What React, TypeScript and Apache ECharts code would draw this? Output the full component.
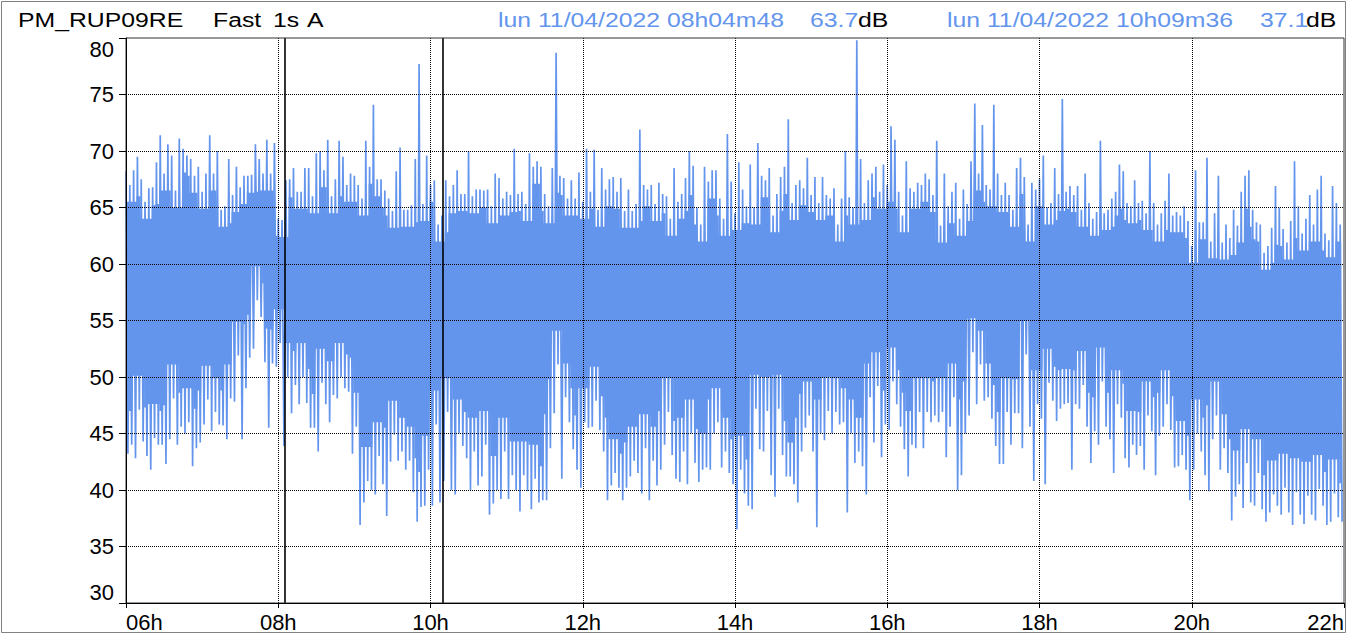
import React, { useEffect, useRef } from "react";
import * as echarts from "echarts";

const FONT = '"Liberation Sans", Arial, Helvetica, sans-serif';
const BLUE = "#6495ED";

// x axis: hours of the day
const hourTicks = [6, 8, 10, 12, 14, 16, 18, 20, 22];
// y axis: dB
const dbTicks = [30, 35, 40, 45, 50, 55, 60, 65, 70, 75, 80];
// cursor positions (08h04m48, 10h09m36)
const cursorHours = [8 + 4 / 60 + 48 / 3600, 10 + 9 / 60 + 36 / 3600];

// 3-minute buckets starting 06h00: max and min of the Fast 1s trace
const bucketStartHour = 6;
const bucketHours = 0.05;
const bucketMax = [
  68.2, 67.0, 68.3, 69.5, 67.5, 65.5, 66.7, 66.8, 69.0, 71.4,
  68.0, 70.6, 69.6, 66.5, 71.1, 70.2, 69.6, 69.3, 67.8, 68.6,
  66.4, 68.0, 71.4, 68.0, 70.0, 64.8, 65.1, 69.3, 66.1, 68.6,
  66.8, 67.8, 67.8, 67.9, 70.6, 69.3, 68.0, 71.0, 68.0, 70.7,
  64.0, 63.9, 67.4, 67.5, 68.5, 66.4, 66.4, 68.5, 68.5, 66.0,
  69.8, 70.0, 68.3, 71.0, 66.0, 67.5, 70.9, 69.5, 67.0, 68.0,
  67.8, 67.0, 65.8, 70.9, 68.6, 74.1, 67.5, 67.5, 66.5, 65.8,
  64.7, 68.2, 70.3, 64.8, 64.8, 65.2, 69.3, 77.7, 65.3, 69.6,
  67.0, 67.4, 63.5, 64.3, 67.4, 66.0, 67.0, 68.3, 66.2, 66.2,
  70.0, 66.0, 66.6, 66.6, 66.5, 66.6, 65.1, 68.0, 67.6, 65.8,
  66.4, 66.1, 70.2, 66.2, 66.4, 65.3, 69.8, 68.6, 69.1, 68.6,
  66.2, 65.1, 68.5, 78.7, 67.8, 67.6, 65.8, 67.4, 65.8, 68.1,
  65.5, 70.2, 66.4, 70.1, 64.8, 68.5, 66.6, 67.5, 67.7, 66.4,
  67.6, 64.7, 66.6, 64.7, 65.3, 71.9, 67.0, 66.6, 67.0, 65.3,
  67.2, 66.2, 66.0, 64.0, 68.5, 65.5, 66.2, 67.6, 70.0, 68.7,
  65.0, 63.5, 68.6, 67.3, 68.3, 68.3, 65.8, 64.0, 71.5, 67.3,
  64.5, 69.0, 66.6, 65.1, 68.8, 65.0, 70.7, 67.8, 67.4, 68.5,
  64.3, 66.2, 67.7, 68.6, 72.8, 65.4, 67.0, 67.4, 66.7, 69.4,
  66.1, 67.7, 65.4, 67.7, 66.1, 65.8, 66.7, 63.5, 65.8, 70.0,
  65.9, 65.0, 79.8, 69.3, 65.4, 67.4, 68.0, 68.6, 66.4, 68.8,
  67.0, 72.2, 71.0, 66.4, 64.3, 69.1, 66.7, 66.4, 67.2, 67.0,
  68.0, 67.5, 66.1, 70.9, 63.4, 68.0, 65.1, 66.4, 67.2, 64.0,
  66.6, 65.3, 69.1, 74.2, 68.0, 72.3, 67.0, 66.6, 74.1, 68.0,
  66.1, 67.2, 66.1, 64.8, 68.5, 69.4, 67.7, 63.5, 67.2, 66.6,
  67.5, 69.6, 65.0, 65.4, 68.5, 66.2, 74.6, 66.4, 66.9, 66.1,
  66.9, 64.8, 68.0, 65.4, 64.0, 64.6, 70.9, 64.5, 64.8, 65.8,
  66.4, 68.8, 68.2, 65.4, 65.1, 67.4, 65.4, 65.6, 64.5, 70.0,
  65.4, 63.5, 64.5, 65.6, 68.0, 64.3, 64.6, 64.3, 65.1, 63.8,
  61.6, 68.3, 63.7, 63.7, 69.4, 62.0, 64.5, 67.8, 61.9, 63.5,
  62.3, 64.8, 63.4, 66.4, 67.8, 68.3, 64.8, 63.7, 63.5, 61.0,
  61.6, 63.2, 66.9, 65.0, 63.1, 61.9, 63.8, 69.1, 65.1, 62.7,
  64.0, 66.1, 63.5, 66.6, 67.8, 62.7, 62.1, 66.9, 65.4, 63.5,
];
const bucketMin = [
  43.2, 44.0, 42.8, 47.1, 44.3, 43.0, 41.8, 44.6, 44.0, 44.0,
  42.3, 44.5, 48.1, 44.0, 45.6, 45.0, 46.0, 42.1, 43.7, 44.2,
  45.8, 48.0, 45.2, 46.9, 45.8, 45.7, 44.5, 48.1, 47.8, 51.9,
  44.5, 49.0, 51.7, 52.5, 56.8, 55.3, 51.3, 45.5, 51.2, 50.9,
  53.0, 43.9, 50.0, 46.8, 49.3, 47.6, 50.0, 47.7, 45.5, 45.5,
  43.4, 49.5, 47.6, 46.0, 48.4, 48.1, 50.0, 49.0, 48.7, 43.2,
  45.6, 36.9, 38.9, 40.8, 40.0, 39.6, 43.0, 40.5, 37.7, 42.5,
  44.9, 42.6, 43.4, 41.8, 42.6, 39.8, 37.2, 38.5, 38.6, 41.8,
  38.6, 45.8, 38.9, 40.8, 46.9, 40.0, 39.6, 45.0, 43.9, 42.8,
  40.0, 43.4, 40.4, 41.2, 44.0, 37.8, 38.8, 40.0, 39.2, 43.4,
  39.2, 41.3, 40.0, 38.1, 41.3, 39.9, 38.3, 41.0, 38.9, 39.1,
  39.1, 43.7, 46.8, 51.1, 41.0, 48.2, 46.0, 43.6, 41.8, 40.2,
  46.0, 45.5, 45.6, 47.9, 45.3, 43.4, 39.1, 40.4, 41.5, 40.2,
  39.1, 40.2, 41.2, 42.6, 41.5, 39.7, 43.7, 39.1, 42.6, 40.4,
  41.8, 44.0, 46.9, 43.1, 41.0, 40.7, 43.4, 40.5, 45.0, 42.4,
  40.7, 41.8, 42.0, 41.8, 45.0, 46.0, 42.0, 43.4, 41.5, 40.5,
  36.5, 41.8, 39.7, 38.6, 38.3, 47.2, 43.6, 43.4, 47.0, 41.3,
  39.4, 47.2, 43.1, 41.2, 41.2, 40.5, 38.9, 43.4, 45.5, 46.6,
  43.4, 36.7, 45.0, 44.4, 47.0, 45.0, 46.9, 45.8, 46.0, 38.0,
  45.0, 42.4, 43.4, 42.1, 39.6, 48.2, 44.2, 49.2, 42.9, 45.8,
  45.3, 49.6, 47.6, 45.6, 43.6, 41.2, 44.0, 43.7, 46.9, 43.7,
  46.9, 46.0, 46.6, 46.0, 46.9, 42.9, 45.6, 48.2, 40.0, 41.3,
  45.0, 46.6, 52.2, 47.6, 51.1, 47.9, 48.2, 46.3, 43.9, 42.3,
  42.3, 46.9, 44.0, 46.8, 46.8, 43.7, 52.0, 45.6, 40.8, 47.6,
  46.3, 40.5, 49.5, 47.9, 46.1, 47.2, 47.6, 47.7, 41.8, 47.6,
  47.2, 49.3, 45.6, 42.4, 45.2, 44.0, 49.6, 45.6, 44.5, 41.5,
  47.6, 46.4, 42.8, 42.0, 44.0, 43.1, 43.9, 41.8, 46.6, 45.2,
  41.3, 44.8, 45.6, 47.6, 45.3, 42.0, 42.1, 43.1, 41.8, 39.1,
  41.8, 45.0, 43.4, 41.3, 39.9, 44.5, 46.6, 41.8, 43.7, 41.5,
  37.3, 39.4, 40.5, 38.4, 42.4, 38.9, 38.6, 41.5, 38.3, 37.2,
  38.0, 39.6, 38.6, 37.8, 40.2, 38.0, 36.9, 39.8, 37.8, 37.0,
  39.5, 37.8, 37.3, 40.1, 38.6, 36.9, 37.2, 39.7, 37.6, 37.2,
];

const headerItems = [
  { text: "PM_RUP09RE", x: 18, color: "#000" },
  { text: "Fast", x: 213, color: "#000" },
  { text: "1s", x: 273, color: "#000" },
  { text: "A", x: 307, color: "#000" },
  { text: "lun 11/04/2022 08h04m48", x: 498, color: BLUE },
  { text: "63.7", x: 810, color: BLUE },
  { text: "dB", x: 858, color: "#000" },
  { text: "lun 11/04/2022 10h09m36", x: 947, color: BLUE },
  { text: "37.1", x: 1260, color: BLUE },
  { text: "dB", x: 1306, color: "#000" },
];

export default function App() {
  const ref = useRef<HTMLDivElement>(null);

  useEffect(() => {
    if (!ref.current) return;
    const chart = echarts.init(ref.current, undefined, { renderer: "svg" });

    const n = bucketMax.length;
    const hourOf = (i: number) => bucketStartHour + i * bucketHours;
    const trace: [number, number][] = [];
    for (let i = 0; i < n; i++) {
      trace.push([hourOf(i), bucketMax[i]]);
      trace.push([hourOf(i) + bucketHours / 2, bucketMin[i]]);
    }
    // solid core where neighbouring buckets overlap
    const coreTopPts: [number, number][] = [];
    const coreBotPts: [number, number][] = [];
    for (let i = 0; i < n; i++) {
      const a = Math.max(0, i - 1);
      const b = Math.min(n - 1, i + 1);
      const top = Math.min(bucketMax[a], bucketMax[i], bucketMax[b]) - 1.5;
      const bot = Math.max(bucketMin[a], bucketMin[i], bucketMin[b]) + 3.0;
      coreTopPts.push([hourOf(i) + bucketHours / 4, top]);
      coreBotPts.push([hourOf(i) + bucketHours / 4, Math.min(bot, top)]);
    }

    const gridLine = { type: "dotted", color: "#000", width: 1 };
    const markData: any[] = [];
    dbTicks.slice(1, -1).forEach((v) => markData.push({ yAxis: v, lineStyle: gridLine }));
    hourTicks.slice(1, -1).forEach((h) => markData.push({ xAxis: h, lineStyle: gridLine }));
    cursorHours.forEach((h) =>
      markData.push({ xAxis: h, lineStyle: { type: "solid", color: "#000", width: 1.6 } })
    );

    chart.setOption({
      animation: false,
      backgroundColor: "#fff",
      textStyle: { fontFamily: FONT },
      grid: {
        left: 126,
        right: 13,
        top: 38,
        bottom: 33,
        show: true,
        borderColor: "#333",
        borderWidth: 1,
        backgroundColor: "transparent",
        z: 10,
      },
      xAxis: {
        type: "value",
        min: hourTicks[0],
        max: hourTicks[hourTicks.length - 1],
        interval: 2,
        z: 10,
        axisLine: { show: true, onZero: false, lineStyle: { color: "#000", width: 1 } },
        axisTick: { show: true, length: 5, lineStyle: { color: "#000" } },
        axisLabel: {
          fontSize: 22,
          color: "#000",
          fontFamily: FONT,
          margin: 8,
          alignMinLabel: "left",
          alignMaxLabel: "right",
          formatter: (v: number) => (v < 10 ? "0" + v : "" + v) + "h",
        },
        splitLine: { show: false },
      },
      yAxis: {
        type: "value",
        min: dbTicks[0],
        max: dbTicks[dbTicks.length - 1],
        interval: 5,
        z: 10,
        axisLine: { show: true, lineStyle: { color: "#000", width: 1 } },
        axisTick: { show: true, length: 7, lineStyle: { color: "#000" } },
        axisLabel: {
          fontSize: 22,
          color: "#000",
          fontFamily: FONT,
          margin: 12,
          verticalAlignMinLabel: "bottom",
          verticalAlignMaxLabel: "top",
        },
        splitLine: { show: false },
      },
      graphic: [
        {
          type: "rect",
          silent: true,
          shape: { x: 1.5, y: 1.5, width: 1344, height: 631 },
          style: { fill: "none", stroke: "#808080", lineWidth: 1 },
          z: -1,
        },
        ...headerItems.map((it) => ({
          type: "text",
          x: it.x,
          y: 19.5,
          scaleX: 1.18,
          silent: true,
          style: {
            text: it.text,
            fill: it.color,
            fontSize: 21,
            fontFamily: FONT,
            align: "left",
            verticalAlign: "middle",
            textAlign: "left",
            textVerticalAlign: "middle",
          },
        })),
      ],
      series: [
        {
          type: "line",
          data: coreTopPts,
          step: "middle",
          symbol: "none",
          silent: true,
          lineStyle: { width: 0, opacity: 0 },
          areaStyle: { color: BLUE, opacity: 1, origin: "start" },
          z: 1,
        },
        {
          type: "line",
          data: coreBotPts,
          step: "middle",
          symbol: "none",
          silent: true,
          lineStyle: { width: 0, opacity: 0 },
          areaStyle: { color: "#ffffff", opacity: 1, origin: "start" },
          z: 2,
        },
        {
          type: "line",
          data: trace,
          symbol: "none",
          silent: true,
          lineStyle: { color: BLUE, width: 1.7, join: "bevel" },
          z: 3,
          markLine: {
            silent: true,
            symbol: ["none", "none"],
            label: { show: false },
            animation: false,
            z: 6,
            data: markData,
          },
        },
      ],
    });

    return () => chart.dispose();
  }, []);

  return (
    <div
      ref={ref}
      style={{ position: "absolute", left: 0, top: 0, width: 1357, height: 636, background: "#fff" }}
    />
  );
}
